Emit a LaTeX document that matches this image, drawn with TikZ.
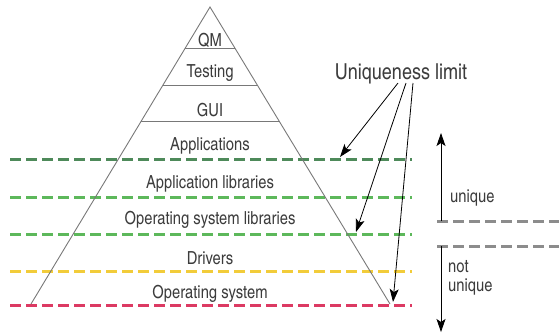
\documentclass[tikz,border=0pt]{standalone}
\usepackage{fontspec}
\setmainfont{texgyreheroscn-regular.otf}
\usetikzlibrary{arrows.meta,calc}
\definecolor{darkgreen}{RGB}{78,138,90}
\definecolor{lightgreen}{RGB}{93,184,91}
\definecolor{limityellow}{RGB}{242,204,58}
\definecolor{limitred}{RGB}{220,58,99}
\definecolor{limitgray}{RGB}{140,140,140}
\definecolor{textgray}{RGB}{60,60,60}
\definecolor{sidegray}{RGB}{120,120,120}
\begin{document}
\begin{tikzpicture}[x=1pt,y=-1pt]

% sizes of the text
\def\lsz{18}
\def\tsz{22}
% style definitions
\tikzstyle{layer} = [font=\fontsize{\lsz}{\lsz}\selectfont, text=textgray, inner sep=0pt];
\tikzstyle{title} = [font=\fontsize{\tsz}{\tsz}\selectfont, text=textgray, inner sep=0pt];
\tikzstyle{side} = [draw=sidegray, line width=0.9pt];
\tikzstyle{limit} = [line width=3pt, dash pattern=on 11pt off 5pt];
\tikzstyle{pointer} = [-{Stealth[length=13pt,width=9pt,inset=3pt]}, line width=0.8pt];

\useasboundingbox (0,0) rectangle (559,333);

% dashed limits
\draw[limit,darkgreen] (10,159) -- (412,159);
\draw[limit,lightgreen] (10,197) -- (412,197);
\draw[limit,lightgreen] (10,234) -- (412,234);
\draw[limit,limityellow] (10,271) -- (412,271);
\draw[limit,limitred] (10,305) -- (412,305);
\draw[limit,limitgray] (437,221) -- (559,221);
\draw[limit,limitgray] (437,246) -- (559,246);

% pyramid
\coordinate (top) at (210,7);
\coordinate (bl) at (31,304);
\coordinate (br) at (390,304);
\draw[side] (bl) -- (top) -- (br);
\foreach \f in {0.138,0.2626,0.387}
	\draw[side] ($(top)!\f!(bl)$) -- ($(top)!\f!(br)$);

\node[layer] (qm) at (210,40) {QM};
\node[layer] (testing) at (210,73) {Testing};
\node[layer] (gui) at (210,110) {GUI};
\node[layer] (apps) at (210,146) {Applications};
\node[layer] (applibs) at (210,184) {Application libraries};
\node[layer] (oslibs) at (210,220) {Operating system libraries};
\node[layer] (drivers) at (210,258) {Drivers};
\node[layer] (os) at (210,294) {Operating system};

% uniqueness limit
\node[title] (ul) at (401,74) {Uniqueness limit};
\coordinate (u1) at (398,83);
\coordinate (u2) at (406,83);
\coordinate (u3) at (413,83);
\coordinate (t1) at (340,157);
\coordinate (t2) at (356,232);
\coordinate (t3) at (393,302);
\draw[pointer] (u1) -- (t1);
\draw[pointer] (u2) -- (t2);
\draw[pointer] (u3) -- (t3);

% unique / not unique
\coordinate (ubot) at (441,221);
\coordinate (utop) at (441,133);
\coordinate (ntop) at (441,246);
\coordinate (nbot) at (441,332);
\draw[pointer] (ubot) -- (utop);
\draw[pointer] (ntop) -- (nbot);
\node[layer,anchor=west] (uniq) at (450,198) {unique};
\node[layer,anchor=north west,align=left,font=\fontsize{\lsz}{19}\selectfont] (notuniq) at (448,260) {not\\unique};

\end{tikzpicture}
\end{document}
